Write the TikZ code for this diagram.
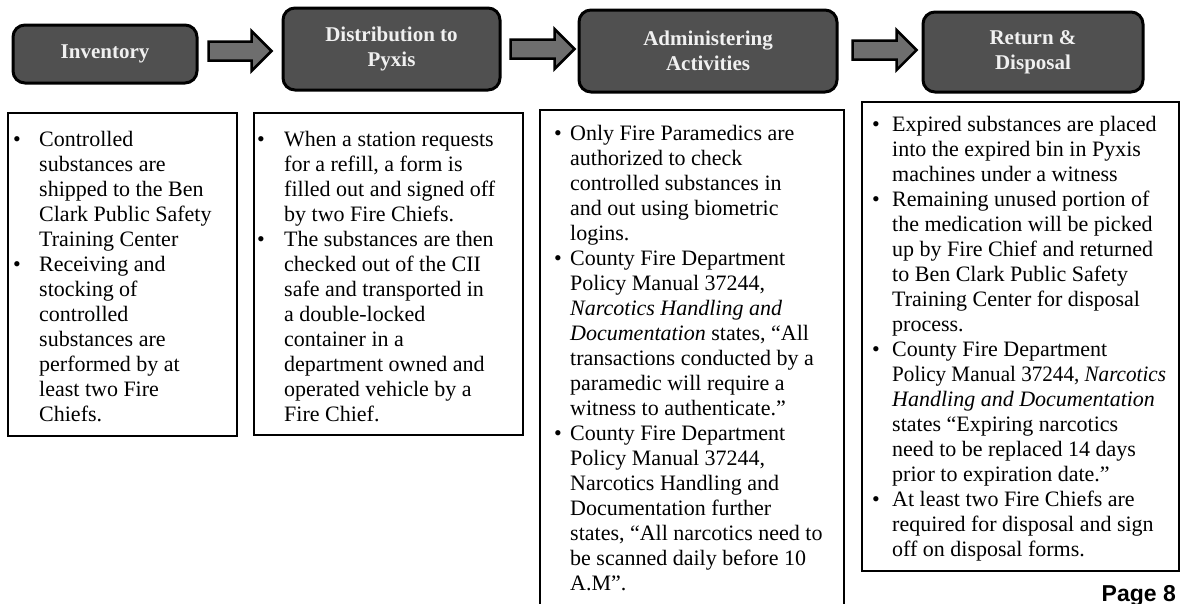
\documentclass[tikz,border=0pt]{standalone}
\usepackage{fontspec}
\setmainfont{Liberation Serif}
\newfontfamily\pagesans{Liberation Sans}
\usetikzlibrary{calc}
\definecolor{headgray}{HTML}{505050}
\definecolor{arrgray}{HTML}{6E6E6E}
\newlength\bulw
\newcommand\bitem[1]{\hbox{\makebox[\bulw][l]{•}#1}}
\newcommand\contline[1]{\hbox{\hspace*{\bulw}#1}}
\begin{document}
\begin{tikzpicture}[x=1pt,y=-1pt,
  headbox/.style={draw=black, line width=3pt, rounded corners=12pt, fill=headgray,
    text=white!94!black, font=\fontsize{21}{25}\selectfont\bfseries, align=center, inner sep=0pt},
  card/.style={draw=black, line width=1.6pt, fill=white, anchor=north west, inner sep=0pt},
  cardtext/.style={anchor=base west, inner sep=0pt, font=\fontsize{22}{25}\selectfont},
  blockarrow/.style={draw=black, line width=2.5pt, fill=arrgray, line join=miter}]
\useasboundingbox (0,0) rectangle (1182,603);
\clip (0,0) rectangle (1182,603);

% header boxes
\node[headbox, minimum width=184pt, minimum height=58pt] (b1) at (105,54) {Inventory};
\node[headbox, minimum width=217pt, minimum height=82pt] (b2) at (391.5,49) {Distribution to\\Pyxis};
\node[headbox, minimum width=258pt, minimum height=82pt] (b3) at (708,51) {Administering\\Activities};
\node[headbox, minimum width=220pt, minimum height=80pt] (b4) at (1033,52) {Return \&\\Disposal};

% block arrows between header boxes
\coordinate (s1) at ($(b1.east)+(10,-3)$);
\coordinate (e1) at ($(s1 -| b2.west)+(-10,0)$);
\coordinate (s2) at ($(b2.east)+(9,0)$);
\coordinate (e2) at ($(s2 -| b3.west)+(-3,0)$);
\coordinate (s3) at ($(b3.east)+(14,-1)$);
\coordinate (e3) at ($(s3 -| b4.west)+(-5,0)$);
\foreach \s/\e in {s1/e1,s2/e2,s3/e3}{
  \draw[blockarrow] ($(\s)+(0,-9.5)$) -- ($(\e)+(-20,-9.5)$) -- ($(\e)+(-20,-20)$) -- (\e)
    -- ($(\e)+(-20,20)$) -- ($(\e)+(-20,9.5)$) -- ($(\s)+(0,9.5)$) -- cycle;
}

% detail cards
\node[card, minimum width=229pt, minimum height=323pt] (cA) at (7,112) {};
\node[card, minimum width=269pt, minimum height=322pt] (cB) at (253,112) {};
\node[card, minimum width=304pt, minimum height=520pt] (cC) at (539,109) {};
\node[card, minimum width=317pt, minimum height=469pt] (cD) at (861,101) {};

\node[cardtext] (tA) at (13,146) {\setlength\bulw{26pt}\vtop{%
\bitem{Controlled}
\contline{substances are}
\contline{shipped to the Ben}
\contline{Clark Public Safety}
\contline{Training Center}
\bitem{Receiving and}
\contline{stocking of}
\contline{controlled}
\contline{substances are}
\contline{performed by at}
\contline{least two Fire}
\contline{Chiefs.}}};

\node[cardtext] (tB) at (257,146) {\setlength\bulw{27pt}\vtop{%
\bitem{When a station requests}
\contline{for a refill, a form is}
\contline{filled out and signed off}
\contline{by two Fire Chiefs.}
\bitem{The substances are then}
\contline{checked out of the CII}
\contline{safe and transported in}
\contline{a double-locked}
\contline{container in a}
\contline{department owned and}
\contline{operated vehicle by a}
\contline{Fire Chief.}}};

\node[cardtext] (tC) at (554,140) {\setlength\bulw{16pt}\vtop{%
\bitem{Only Fire Paramedics are}
\contline{authorized to check}
\contline{controlled substances in}
\contline{and out using biometric}
\contline{logins.}
\bitem{County Fire Department}
\contline{Policy Manual 37244,}
\contline{\textit{Narcotics Handling and}}
\contline{\textit{Documentation} states, “All}
\contline{transactions conducted by a}
\contline{paramedic will require a}
\contline{witness to authenticate.”}
\bitem{County Fire Department}
\contline{Policy Manual 37244,}
\contline{Narcotics Handling and}
\contline{Documentation further}
\contline{states, “All narcotics need to}
\contline{be scanned daily before 10}
\contline{A.M”.}}};

\node[cardtext] (tD) at (872,131) {\setlength\bulw{20pt}\vtop{%
\bitem{Expired substances are placed}
\contline{into the expired bin in Pyxis}
\contline{machines under a witness}
\bitem{Remaining unused portion of}
\contline{the medication will be picked}
\contline{up by Fire Chief and returned}
\contline{to Ben Clark Public Safety}
\contline{Training Center for disposal}
\contline{process.}
\bitem{County Fire Department}
\contline{\scalebox{0.96}[1]{Policy Manual 37244, \textit{Narcotics}}}
\contline{\textit{Handling and Documentation}}
\contline{states “Expiring narcotics}
\contline{need to be replaced 14 days}
\contline{prior to expiration date.”}
\bitem{At least two Fire Chiefs are}
\contline{required for disposal and sign}
\contline{off on disposal forms.}}};

\node[anchor=base east, inner sep=0pt, font=\fontsize{23}{23}\selectfont\pagesans\bfseries] (pg) at (1176,601) {Page 8};
\end{tikzpicture}
\end{document}
